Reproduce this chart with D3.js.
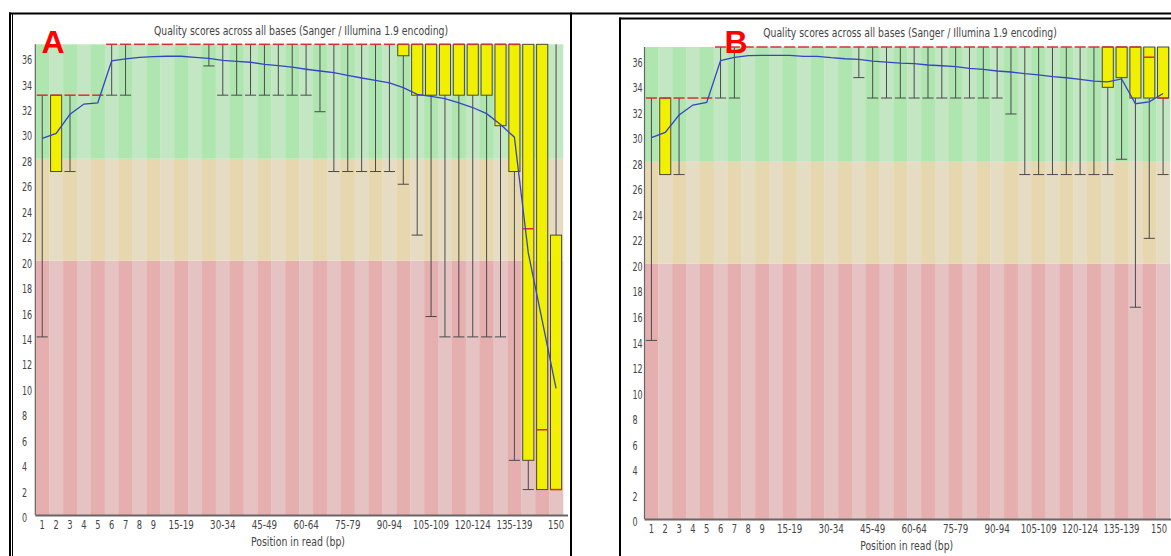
<!DOCTYPE html>
<html>
<head>
<meta charset="utf-8">
<script src="https://cdn.jsdelivr.net/npm/d3@7"></script>
<style>
  html, body { margin: 0; padding: 0; background: #fff; }
  svg { display: block; }
  text { font-family: "Liberation Sans Narrow", "DejaVu Sans Condensed", "Liberation Sans", sans-serif; }
</style>
</head>
<body>
<svg id="chart" width="1171" height="556"></svg>
<script>
// Read positions (bp) – single bases 1-9, then 5 bp groups, then 150
const categories = ["1","2","3","4","5","6","7","8","9",
  "10-14","15-19","20-24","25-29","30-34","35-39","40-44","45-49","50-54","55-59",
  "60-64","65-69","70-74","75-79","80-84","85-89","90-94","95-99","100-104",
  "105-109","110-114","115-119","120-124","125-129","130-134","135-139",
  "140-144","145-149","150"];
const xTickLabels = ["1","2","3","4","5","6","7","8","9","15-19","30-34","45-49",
  "60-64","75-79","90-94","105-109","120-124","135-139","150"];
const yTicks = [0,2,4,6,8,10,12,14,16,18,20,22,24,26,28,30,32,34,36];

// Sample A: per-position quality statistics
const meanA   = [29.6,30.0,31.5,32.3,32.4,35.7,35.85,35.98,36.03,36.06,36.06,35.98,35.9,35.74,35.66,35.59,35.43,35.33,35.2,
                 35.04,34.9,34.78,34.56,34.35,34.17,33.96,33.6,33.07,32.9,32.73,32.39,32.03,31.55,30.7,29.7,20.6,15.3,9.95];
const medianA = [33,33,33,33,33,37,37,37,37,37,37,37,37,37,37,37,37,37,37,
                 37,37,37,37,37,37,37,37,37,37,37,37,37,37,37,37,22.5,6.7,2];
const q1A     = [33,27,33,33,33,37,37,37,37,37,37,37,37,37,37,37,37,37,37,
                 37,37,37,37,37,37,37,36.1,33,33,33,33,33,33,30.6,27,4.3,2,2];
const q3A     = [33,33,33,33,33,37,37,37,37,37,37,37,37,37,37,37,37,37,37,
                 37,37,37,37,37,37,37,37,37,37,37,37,37,37,37,37,37,37,22];
const p10A    = [14,27,27,33,33,33,33,37,37,37,37,37,35.3,33,33,33,33,33,33,
                 33,31.7,27,27,27,27,27,26,22,15.6,14,14,14,14,14,4.3,2,2,2];
const p90A    = [33,33,33,33,33,37,37,37,37,37,37,37,37,37,37,37,37,37,37,
                 37,37,37,37,37,37,37,37,37,37,37,37,37,37,37,37,37,37,37];

// Sample B: per-position quality statistics
const meanB   = [29.89,30.31,31.67,32.45,32.66,35.93,36.19,36.32,36.35,36.35,36.35,36.27,36.27,36.16,36.08,36.03,35.9,35.82,35.74,
                 35.69,35.59,35.53,35.46,35.33,35.25,35.12,35.04,34.91,34.81,34.67,34.59,34.47,34.33,34.27,34.5,32.55,32.7,33.35];
const medianB = [33,33,33,33,33,37,37,37,37,37,37,37,37,37,37,37,37,37,37,
                 37,37,37,37,37,37,37,37,37,37,37,37,37,37,37,37,37,36.2,33];
const q1B     = [33,27,33,33,33,37,37,37,37,37,37,37,37,37,37,37,37,37,37,
                 37,37,37,37,37,37,37,37,37,37,37,37,37,37,33.84,34.6,33,33,33];
const q3B     = [33,33,33,33,33,37,37,37,37,37,37,37,37,37,37,37,37,37,37,
                 37,37,37,37,37,37,37,37,37,37,37,37,37,37,37,37,37,37,37];
const p10B    = [14,27,27,33,33,33,33,37,37,37,37,37,37,37,37,34.6,33,33,33,
                 33,33,33,33,33,33,33,31.75,27,27,27,27,27,27,27,28.2,16.6,22,27];
const p90B    = [33,33,33,33,33,37,37,37,37,37,37,37,37,37,37,37,37,37,37,
                 37,37,37,37,37,37,37,37,37,37,37,37,37,37,37,37,37,37,37];

const titleText = "Quality scores across all bases (Sanger / Illumina 1.9 encoding)";
const xAxisTitle = "Position in read (bp)";

// Condensed label widths: narrow digits and hyphens
function labelWidth(s) {
  let w = 0;
  for (const ch of String(s)) w += ch === "-" ? 4.2 : 5.3;
  return w;
}

const svg = d3.select("#chart");
const pageWidth = 1171;

// Frames around the two panels
const frame = svg.append("g").attr("stroke", "#000").attr("fill", "none");
frame.append("line").attr("x1", 9).attr("x2", 1171).attr("y1", 13.5).attr("y2", 13.5).attr("stroke-width", 2);
frame.append("line").attr("x1", 10).attr("x2", 10).attr("y1", 12.5).attr("y2", 556).attr("stroke-width", 2);
frame.append("line").attr("x1", 12.5).attr("x2", 12.5).attr("y1", 14).attr("y2", 556).attr("stroke-width", 1);
frame.append("line").attr("x1", 571).attr("x2", 571).attr("y1", 12.5).attr("y2", 556).attr("stroke-width", 2);
frame.append("line").attr("x1", 619).attr("x2", 1171).attr("y1", 18.5).attr("y2", 18.5).attr("stroke-width", 2);
frame.append("line").attr("x1", 620).attr("x2", 620).attr("y1", 17.5).attr("y2", 556).attr("stroke-width", 2);

function drawPanel(p) {
  const g = svg.append("g");
  const x = d3.scaleBand().domain(categories).range([p.left, p.right]).paddingInner(0).paddingOuter(0);
  const y = d3.scaleLinear().domain([0, 37]).range([p.bottom, p.top]);
  const bw = x.bandwidth();
  const boxW = bw * 0.8;
  const cx = c => x(c) + bw / 2;

  // Quality zones, striped per position
  const zones = [
    { lo: 0,  hi: 20, dark: "#e6afaf", light: "#e6c3c3" },
    { lo: 20, hi: 28, dark: "#e6d7af", light: "#e6dcc3" },
    { lo: 28, hi: 37, dark: "#afe6af", light: "#c3e6c3" }
  ];
  const bg = g.append("g");
  zones.forEach(z => {
    bg.selectAll(null).data(categories).join("rect")
      .attr("x", c => x(c)).attr("width", bw + 0.3)
      .attr("y", y(z.hi)).attr("height", y(z.lo) - y(z.hi))
      .attr("fill", (c, i) => i % 2 === 0 ? z.dark : z.light);
  });

  const rows = categories.map((c, i) => ({
    c, mean: p.mean[i], median: p.median[i], q1: p.q1[i], q3: p.q3[i], lo: p.p10[i], hi: p.p90[i]
  }));

  // Whiskers with caps
  const wk = g.append("g").attr("stroke", "#4a4a4a").attr("stroke-width", 1);
  wk.selectAll(null).data(rows.filter(d => d.hi > d.lo)).join("line")
    .attr("x1", d => cx(d.c)).attr("x2", d => cx(d.c))
    .attr("y1", d => y(d.hi)).attr("y2", d => y(d.lo));
  wk.selectAll(null).data(rows.filter(d => d.lo < d.q1)).join("line")
    .attr("x1", d => cx(d.c) - boxW / 2).attr("x2", d => cx(d.c) + boxW / 2)
    .attr("y1", d => y(d.lo)).attr("y2", d => y(d.lo));

  // Inter-quartile boxes
  g.append("g").selectAll(null).data(rows.filter(d => d.q3 > d.q1)).join("rect")
    .attr("x", d => cx(d.c) - boxW / 2).attr("width", boxW)
    .attr("y", d => y(d.q3)).attr("height", d => y(d.q1) - y(d.q3))
    .attr("fill", "#f0f000").attr("stroke", "#4a4a3a").attr("stroke-width", 1);

  // Medians
  g.append("g").selectAll(null).data(rows).join("line")
    .attr("x1", d => cx(d.c) - boxW / 2).attr("x2", d => cx(d.c) + boxW / 2)
    .attr("y1", d => y(d.median)).attr("y2", d => y(d.median))
    .attr("stroke", "#d83030").attr("stroke-width", 1.5);

  // Mean quality line
  g.append("path").datum(rows)
    .attr("fill", "none").attr("stroke", "#3346c8").attr("stroke-width", 1.3)
    .attr("d", d3.line().x(d => cx(d.c)).y(d => y(d.mean)));

  // Axes
  const yAxis = g.append("g").attr("transform", `translate(${p.left},0)`)
    .call(d3.axisLeft(y).tickValues(yTicks).tickSize(0).tickFormat(d3.format("d")));
  yAxis.select(".domain").remove();
  yAxis.selectAll("text")
    .attr("x", p.yLabelX - p.left).attr("dy", "0.55em")
    .attr("text-anchor", "start").attr("fill", "#444")
    .style("font-size", "12px")
    .attr("textLength", d => labelWidth(d) * 0.96).attr("lengthAdjust", "spacingAndGlyphs");

  const xAxis = g.append("g").attr("transform", `translate(0,${p.bottom})`)
    .call(d3.axisBottom(x).tickValues(xTickLabels).tickSize(0));
  xAxis.select(".domain").remove();
  xAxis.selectAll("text").attr("y", 14).attr("dy", 0).attr("fill", "#444").style("font-size", "12px")
    .attr("textLength", d => labelWidth(d)).attr("lengthAdjust", "spacingAndGlyphs")
    // keep the last label inside the page edge
    .attr("dx", d => Math.min(0, pageWidth - 4 - (cx(d) + labelWidth(d) / 2)));

  g.append("line").attr("x1", p.left).attr("x2", p.left).attr("y1", p.top).attr("y2", p.bottom)
    .attr("stroke", "#666").attr("stroke-width", 1.2);
  g.append("line").attr("x1", p.left).attr("x2", p.axisEnd).attr("y1", p.bottom + 0.5).attr("y2", p.bottom + 0.5)
    .attr("stroke", "#666").attr("stroke-width", 1.8);

  // Titles
  g.append("text").attr("x", p.titleX).attr("y", p.titleY).attr("text-anchor", "middle")
    .attr("fill", "#444").style("font-size", "12.5px")
    .attr("textLength", p.titleW).attr("lengthAdjust", "spacingAndGlyphs").text(titleText);
  g.append("text").attr("x", p.axisTitleX).attr("y", p.axisTitleY).attr("text-anchor", "middle")
    .attr("fill", "#444").style("font-size", "12.5px")
    .attr("textLength", p.axisTitleW).attr("lengthAdjust", "spacingAndGlyphs").text(xAxisTitle);

  // Panel letter
  g.append("text").attr("x", p.letterX).attr("y", p.letterY)
    .attr("fill", "#ff0000").style("font-family", "'Liberation Sans', Arial, sans-serif")
    .style("font-weight", "bold").style("font-size", "32px").text(p.letter);
}

drawPanel({
  letter: "A", letterX: 41.5, letterY: 53.3,
  left: 35.3, right: 563, top: 44.3, bottom: 515, axisEnd: 568,
  yLabelX: 22, titleX: 301, titleY: 34.5, titleW: 294,
  axisTitleX: 298, axisTitleY: 546, axisTitleW: 94,
  mean: meanA, median: medianA, q1: q1A, q3: q3A, p10: p10A, p90: p90A
});
drawPanel({
  letter: "B", letterX: 724.5, letterY: 53.3,
  left: 644.5, right: 1170, top: 47, bottom: 519, axisEnd: 1171,
  yLabelX: 632.5, titleX: 910, titleY: 36.5, titleW: 293.5,
  axisTitleX: 906.7, axisTitleY: 550, axisTitleW: 93,
  mean: meanB, median: medianB, q1: q1B, q3: q3B, p10: p10B, p90: p90B
});
</script>
</body>
</html>
